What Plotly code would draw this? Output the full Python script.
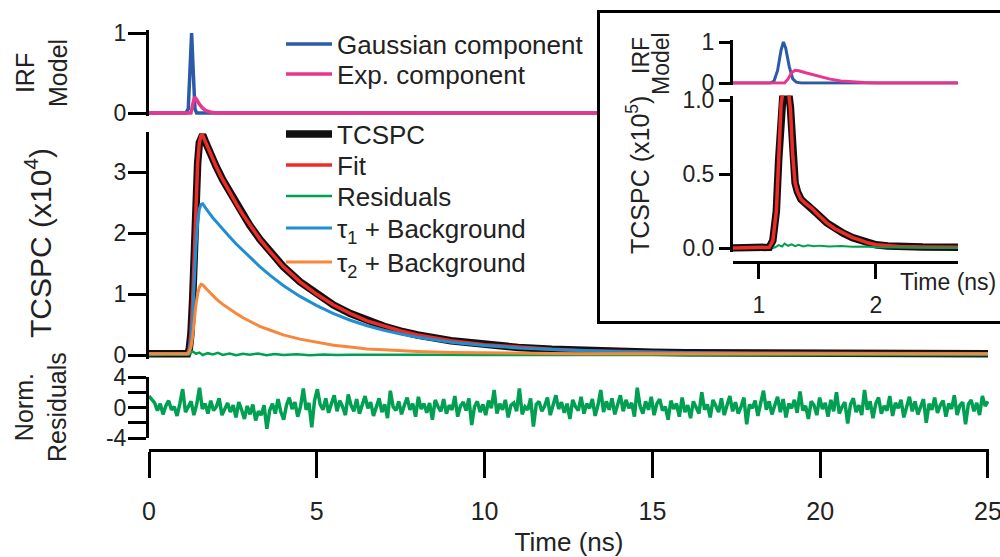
import numpy as np
import plotly.graph_objects as go

FONT = "Liberation Sans, Arial, sans-serif"

C_GAUSS = "#2b5ba8"
C_EXP = "#e8358f"
C_TCSPC = "#111111"
C_FIT = "#ee2b26"
C_RES = "#00a052"
C_TAU1 = "#1f8fd2"
C_TAU2 = "#f7873a"

# ---------------- main IRF model (normalised) ----------------
irf_gauss_t = [0, 1.10, 1.17, 1.22, 1.27, 1.32, 1.37, 1.42, 25]
irf_gauss = [0, 0, 0.05, 0.50, 1.00, 0.50, 0.05, 0, 0]
irf_exp_t = [0, 1.25, 1.30, 1.36, 1.42, 1.50, 1.60, 1.70, 1.85, 2.00, 25]
irf_exp = [0, 0, 0.10, 0.20, 0.17, 0.11, 0.06, 0.03, 0.01, 0, 0]

# ---------------- main TCSPC decay (x1e4 counts) ----------------
decay_t = [0, 0.5, 1.0, 1.1, 1.15, 1.2, 1.25, 1.3, 1.35, 1.4, 1.45, 1.5, 1.55, 1.6,
           1.7, 1.8, 1.9, 2.0, 2.2, 2.4, 2.6, 2.8, 3.0, 3.3, 3.6, 4.0, 4.5, 5.0,
           5.5, 6.0, 6.5, 7.0, 7.5, 8.0, 9, 10, 11, 12, 13, 14, 15, 16, 18, 20, 22, 25]
tcspc = [0.02, 0.02, 0.02, 0.02, 0.02, 0.10, 0.35, 0.90, 1.80, 2.60, 3.15, 3.48, 3.61, 3.61,
         3.47, 3.33, 3.21, 3.09, 2.87, 2.67, 2.48, 2.30, 2.13, 1.90, 1.70, 1.45, 1.20, 0.995,
         0.82, 0.68, 0.56, 0.47, 0.393, 0.328, 0.233, 0.168, 0.124, 0.093, 0.070, 0.055,
         0.044, 0.037, 0.029, 0.024, 0.022, 0.02]
fit = [0.02, 0.02, 0.02, 0.02, 0.02, 0.10, 0.35, 0.90, 1.80, 2.60, 3.15, 3.48, 3.60, 3.60,
       3.47, 3.33, 3.21, 3.09, 2.87, 2.67, 2.48, 2.30, 2.13, 1.90, 1.70, 1.45, 1.20, 0.995,
       0.82, 0.68, 0.56, 0.47, 0.393, 0.328, 0.233, 0.168, 0.124, 0.093, 0.070, 0.055,
       0.044, 0.037, 0.029, 0.024, 0.022, 0.02]
tau1_bg = [0.02, 0.02, 0.02, 0.02, 0.02, 0.07, 0.24, 0.62, 1.24, 1.79, 2.17, 2.39, 2.47, 2.48,
           2.40, 2.32, 2.25, 2.19, 2.06, 1.94, 1.82, 1.71, 1.60, 1.45, 1.31, 1.14, 0.96, 0.81,
           0.68, 0.57, 0.48, 0.405, 0.343, 0.29, 0.21, 0.155, 0.116, 0.088, 0.068, 0.054,
           0.044, 0.037, 0.0285, 0.024, 0.022, 0.02]
tau2_bg = [0.02, 0.02, 0.02, 0.02, 0.02, 0.05, 0.13, 0.30, 0.58, 0.83, 1.00, 1.11, 1.16, 1.15,
           1.09, 1.03, 0.98, 0.92, 0.83, 0.75, 0.68, 0.61, 0.55, 0.47, 0.41, 0.33, 0.26, 0.205,
           0.16, 0.13, 0.10, 0.085, 0.07, 0.058, 0.043, 0.033, 0.028, 0.025, 0.022, 0.021,
           0.02, 0.02, 0.02, 0.02, 0.02, 0.02]

resid_t = [0, 1.0, 1.2, 1.3, 1.4, 1.5, 1.6, 1.75, 1.9, 2.05, 2.2, 2.4, 2.6, 2.8, 3.0, 3.25,
           3.5, 3.75, 4.0, 4.4, 4.8, 5.2, 5.6, 6.0, 7.0, 8.0, 10, 13, 16, 20, 25]
resid = [0.0, 0.0, 0.01, 0.06, 0.02, 0.04, 0.0, 0.03, 0.01, 0.035, 0.0, 0.025, -0.005, 0.02,
         0.005, 0.025, -0.005, 0.015, 0.0, 0.012, -0.005, 0.01, 0.0, 0.005, 0.0, 0.003,
         0.0, 0.0, 0.0, 0.0, 0.0]

# ---------------- normalised residuals ----------------
norm_res = [
    1.5, 1.0, 0.6, -0.4, 0.5, -0.9, 0.2, 0.9, -0.3, 0.1, -1.1, 0.5, 2.4, -0.6, 0.1, 0.8, -1.0, 0.4, 2.6, -0.2,
    0.5, -0.8, 0.9, -0.4, 0.1, 1.2, -1.0, -0.1, 0.6, -0.6, 0.3, -1.3, 0.7, -0.3, -1.5, 0.2, -0.9, 0.4, -1.7, -0.5,
    -1.0, 0.3, -2.8, -0.4, 0.5, -0.8, 1.1, -0.6, -1.6, 0.3, 1.3, -0.2, 0.7, -1.2, 0.1, 2.5, -0.3, 0.6, -2.6, 0.9,
    2.4, 0.4, -0.3, 1.2, -0.7, 0.5, 1.6, -0.5, 0.9, 0.1, -1.0, 1.7, 0.3, -0.5, 1.1, -0.8, 0.5, 1.5, -0.1, 0.7,
    -1.1, 0.2, 1.2, -0.6, 0.4, -1.4, 2.2, 0.1, -0.4, 0.8, -0.9, 0.3, 1.3, -0.3, 0.5, -1.2, 1.4, -0.2, 0.5, -0.7,
    0.6, -1.6, 1.0, 0.1, -0.5, 1.1, -0.8, 0.3, -0.3, 1.5, -1.2, 0.2, 0.7, -0.4, 1.2, -2.3, 0.1, 0.8, -0.6, 0.4,
    -1.0, 0.9, -0.1, 2.3, -0.8, 0.5, -0.3, 1.0, -1.3, 0.3, 0.6, -0.5, 2.5, -0.9, 0.1, -0.3, 1.2, -2.5, 0.4, 0.8,
    -0.5, 0.2, 1.3, -1.0, 0.3, 1.6, -0.2, 0.7, -0.7, 0.5, -1.5, 1.0, 0.1, -0.4, 1.4, -0.8, 0.5, -0.1, 1.1, -1.1,
    0.3, 2.3, -0.6, 0.8, -0.3, 1.2, -0.9, 0.4, 1.6, -0.5, 1.0, -0.1, 0.6, -1.2, 2.6, 0.2, -0.8, 0.8, -0.3, 1.4,
    -1.0, 0.5, 1.1, -0.4, 0.1, -1.6, 0.9, -0.2, 0.5, -1.2, 1.3, -0.6, 0.3, -1.4, 0.8, 0.0, -0.8, 2.0, -0.3, 0.4,
    -1.3, 1.0, 0.2, -0.6, 1.2, -1.0, 0.3, 1.5, -0.5, 0.7, -0.8, 0.1, 1.3, -2.2, 0.4, -0.1, 0.9, -1.1, 0.6, 2.2,
    -0.3, 0.8, -0.9, 0.3, 1.4, -0.6, 1.1, -1.3, 0.5, -0.1, 1.0, -0.7, 2.1, -0.4, 0.2, -1.5, 0.8, 0.3, -1.0, 1.3,
    -0.2, 0.6, -1.2, 1.0, -0.5, 2.0, -0.8, 0.1, 0.7, -2.1, 0.4, 1.2, -0.6, 0.3, -1.0, 2.3, -0.3, 0.8, -1.4, 0.5,
    1.3, -0.8, 0.2, -0.4, 1.5, -1.1, 0.6, -0.1, 1.0, -1.3, 0.3, 1.4, -0.5, 0.8, -0.9, 0.1, 1.1, -2.0, 0.5, -0.3,
    1.3, -0.7, 0.3, 0.9, -1.2, 0.5, -0.2, 1.6, -1.0, 0.3, 0.7, -2.2, 0.4, 1.0, -0.5, 0.6, -1.0, 1.5, 0.2, 0.8,
]
norm_res_t = np.linspace(0, 25, len(norm_res))

# ---------------- inset (x1e5 counts) ----------------
in_gauss_t = [0.78, 1.10, 1.13, 1.16, 1.19, 1.21, 1.23, 1.26, 1.29, 1.32, 1.36, 2.70]
in_gauss = [0, 0, 0.05, 0.30, 0.80, 1.00, 0.85, 0.40, 0.10, 0.02, 0, 0]
in_exp_t = [0.78, 1.22, 1.25, 1.28, 1.31, 1.34, 1.40, 1.50, 1.60, 1.70, 1.80, 1.90, 2.00, 2.70]
in_exp = [0, 0, 0.10, 0.25, 0.31, 0.30, 0.25, 0.17, 0.10, 0.05, 0.025, 0.01, 0, 0]

in_t = [0.78, 1.05, 1.09, 1.12, 1.15, 1.17, 1.19, 1.21, 1.23, 1.25, 1.27, 1.29, 1.31, 1.33,
        1.36, 1.40, 1.45, 1.50, 1.58, 1.65, 1.72, 1.80, 1.86, 1.93, 2.00, 2.10, 2.20, 2.40, 2.70]
in_tcspc = [0.0, 0.0, 0.005, 0.05, 0.25, 0.60, 0.98, 1.08, 1.10, 1.08, 0.95, 0.62, 0.44, 0.38,
            0.33, 0.30, 0.27, 0.23, 0.17, 0.13, 0.10, 0.07, 0.055, 0.035, 0.022, 0.014, 0.010,
            0.006, 0.005]
in_fit = [0.0, 0.0, 0.005, 0.05, 0.25, 0.60, 0.97, 1.08, 1.10, 1.08, 0.94, 0.62, 0.44, 0.38,
          0.33, 0.30, 0.27, 0.23, 0.17, 0.13, 0.10, 0.07, 0.055, 0.035, 0.022, 0.014, 0.010,
          0.006, 0.005]
in_res_t = [1.12, 1.14, 1.17, 1.20, 1.22, 1.25, 1.28, 1.31, 1.34, 1.38, 1.42, 1.47, 1.52,
            1.60, 1.70, 1.80, 1.90, 2.00, 2.70]
in_res = [0.0, 0.005, 0.02, 0.01, 0.03, 0.015, 0.025, 0.012, 0.022, 0.01, 0.018, 0.012, 0.016,
          0.01, 0.013, 0.008, 0.01, 0.005, 0.0]

fig = go.Figure()

# main IRF
fig.add_trace(go.Scatter(x=irf_gauss_t, y=irf_gauss, name="Gaussian component", mode="lines",
                         line=dict(color=C_GAUSS, width=3.5), xaxis="x", yaxis="y", legend="legend"))
fig.add_trace(go.Scatter(x=irf_exp_t, y=irf_exp, name="Exp. component", mode="lines",
                         line=dict(color=C_EXP, width=3.5), xaxis="x", yaxis="y", legend="legend2"))
# main TCSPC
fig.add_trace(go.Scatter(x=decay_t, y=tcspc, name="TCSPC", mode="lines",
                         line=dict(color=C_TCSPC, width=7.5), xaxis="x", yaxis="y2", legend="legend3"))
fig.add_trace(go.Scatter(x=decay_t, y=fit, name="Fit", mode="lines",
                         line=dict(color=C_FIT, width=3.5), xaxis="x", yaxis="y2", legend="legend4"))
fig.add_trace(go.Scatter(x=resid_t, y=resid, name="Residuals", mode="lines",
                         line=dict(color=C_RES, width=2.5), xaxis="x", yaxis="y2", legend="legend5"))
fig.add_trace(go.Scatter(x=decay_t, y=tau1_bg, name="τ<sub>1</sub> + Background", mode="lines",
                         line=dict(color=C_TAU1, width=3), xaxis="x", yaxis="y2", legend="legend6"))
fig.add_trace(go.Scatter(x=decay_t, y=tau2_bg, name="τ<sub>2</sub> + Background", mode="lines",
                         line=dict(color=C_TAU2, width=3), xaxis="x", yaxis="y2", legend="legend7"))
# normalised residuals
fig.add_trace(go.Scatter(x=norm_res_t, y=norm_res, mode="lines", showlegend=False,
                         line=dict(color=C_RES, width=3.5), xaxis="x", yaxis="y3"))
# inset frame (white background subplot)
fig.add_trace(go.Scatter(x=[0.5], y=[0.5], mode="markers", marker=dict(opacity=0), showlegend=False,
                         hoverinfo="skip", xaxis="x4", yaxis="y4"))
# inset IRF
fig.add_trace(go.Scatter(x=in_gauss_t, y=in_gauss, mode="lines", showlegend=False,
                         line=dict(color=C_GAUSS, width=3), xaxis="x5", yaxis="y5"))
fig.add_trace(go.Scatter(x=in_exp_t, y=in_exp, mode="lines", showlegend=False,
                         line=dict(color=C_EXP, width=3), xaxis="x5", yaxis="y5"))
# inset TCSPC
fig.add_trace(go.Scatter(x=in_t, y=in_tcspc, mode="lines", showlegend=False,
                         line=dict(color=C_TCSPC, width=7.5), xaxis="x5", yaxis="y6"))
fig.add_trace(go.Scatter(x=in_t, y=in_fit, mode="lines", showlegend=False,
                         line=dict(color=C_FIT, width=3.5), xaxis="x5", yaxis="y6"))
fig.add_trace(go.Scatter(x=in_res_t, y=in_res, mode="lines", showlegend=False,
                         line=dict(color=C_RES, width=2), xaxis="x5", yaxis="y6"))

H = 557.0


def py(px):
    return 1 - px / H


axis_common = dict(showline=True, linewidth=3, linecolor="black", ticks="outside", tickwidth=3,
                   tickcolor="black", showgrid=False, zeroline=False, fixedrange=True,
                   automargin=False)
frame_axis = dict(showline=True, linewidth=3, linecolor="black", showticklabels=False, ticks="",
                  showgrid=False, zeroline=False, fixedrange=True, automargin=False, range=[0, 1])

legend_rows = {"legend": 44, "legend2": 74, "legend3": 134, "legend4": 165,
               "legend5": 196, "legend6": 228, "legend7": 262}
legends = {name: dict(x=0.281, y=py(ypx), xanchor="left", yanchor="middle",
                      bgcolor="rgba(0,0,0,0)", font=dict(size=26), itemwidth=46,
                      borderwidth=0)
           for name, ypx in legend_rows.items()}

fig.update_layout(
    template="none",
    width=1000, height=557,
    margin=dict(l=0, r=0, t=0, b=0, pad=0),
    paper_bgcolor="white", plot_bgcolor="white",
    font=dict(family=FONT, size=24, color="#222222"),
    xaxis=dict(domain=[0.149, 0.989], range=[0, 25.03], anchor="free", position=py(450),
               tickvals=[0, 5, 10, 15, 20, 25], ticklen=26, ticklabelstandoff=12,
               ticklabeloverflow="allow", tickfont=dict(size=25),
               title=dict(text="Time (ns)", font=dict(size=26), standoff=8),
               **axis_common),
    yaxis=dict(domain=[py(116.2), py(29.8)], range=[-0.04, 1.04], anchor="x",
               tickvals=[0, 1], ticklen=18, ticklabelstandoff=-3, tickfont=dict(size=23),
               **axis_common),
    yaxis2=dict(domain=[py(358.66), py(131.74)], range=[-0.06, 3.66], anchor="x",
                tickvals=[0, 1, 2, 3], ticklen=18, ticklabelstandoff=-3, tickfont=dict(size=23),
                **axis_common),
    yaxis3=dict(domain=[py(438), py(377)], range=[-4, 4], anchor="x",
                tickvals=[-4, -2, 0, 2, 4], ticktext=["-4", "", "0", "", "4"], ticklen=18,
                ticklabelstandoff=-3, tickfont=dict(size=23), **axis_common),
    xaxis4=dict(domain=[0.6, 1.0], anchor="y4", mirror=True, **frame_axis),
    yaxis4=dict(domain=[py(321), py(13)], anchor="x4", **frame_axis),
    xaxis5=dict(domain=[0.733, 0.958], range=[0.78, 2.70], anchor="free", position=py(262),
                tickvals=[1, 2], ticklen=15, ticklabelstandoff=6,
                tickfont=dict(size=23), **axis_common),
    yaxis5=dict(domain=[py(84.64), py(40.36)], range=[-0.04, 1.04], anchor="x5",
                tickvals=[0, 1], ticklen=11, tickfont=dict(size=23), **axis_common),
    yaxis6=dict(domain=[py(251.7), py(95.56)], range=[-0.025, 1.03], anchor="x5",
                tickvals=[0, 0.5, 1.0], ticktext=["0.0", "0.5", "1.0"], ticklen=11,
                tickfont=dict(size=23), **axis_common),
    showlegend=True,
    **legends,
)

ann = dict(xref="paper", yref="paper", showarrow=False, textangle=-90,
           xanchor="center", yanchor="middle")
fig.add_annotation(text="IRF<br>Model", x=42 / 1000, y=py(73), font=dict(size=25), **ann)
fig.add_annotation(text="TCSPC (x10<sup>4</sup>)", x=38 / 1000, y=py(243), font=dict(size=30), **ann)
fig.add_annotation(text="Norm.<br>Residuals", x=40 / 1000, y=py(407), font=dict(size=25), **ann)
fig.add_annotation(text="TCSPC (x10<sup>5</sup>)", x=638 / 1000, y=py(175), font=dict(size=25), **ann)
fig.add_annotation(text="IRF", x=641 / 1000, y=py(56), font=dict(size=23), **ann)
fig.add_annotation(text="Model", x=661 / 1000, y=py(64), font=dict(size=23), **ann)
fig.add_annotation(text="Time (ns)", x=948 / 1000, y=py(282), xref="paper", yref="paper",
                   showarrow=False, xanchor="center", yanchor="middle", font=dict(size=23))

fig.write_html("out.html")
